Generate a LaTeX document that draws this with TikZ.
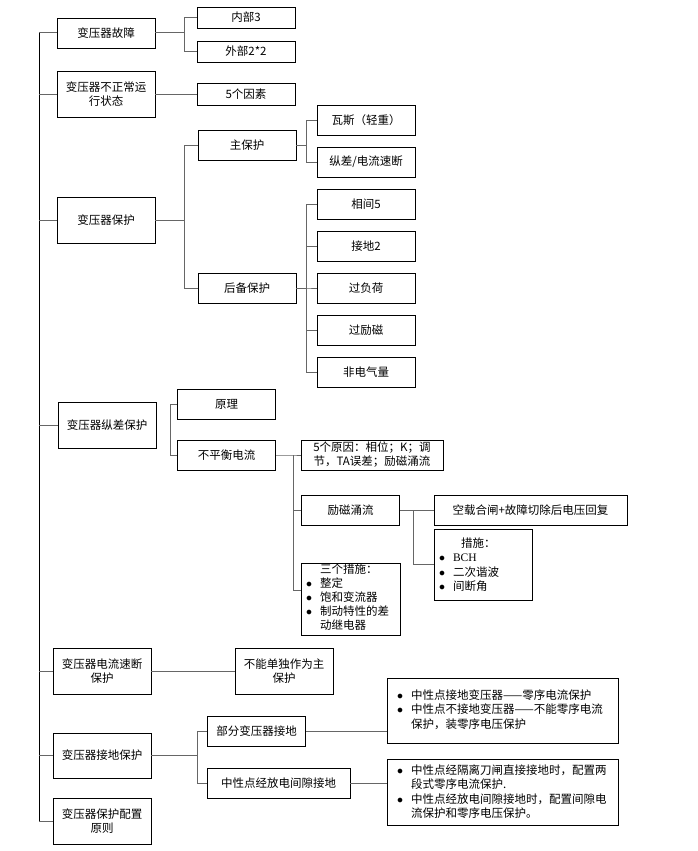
\documentclass[tikz,border=0pt]{standalone}
\usepackage{fontspec}
\setmainfont{Noto Sans CJK SC}
\begin{document}
\begin{tikzpicture}[x=1pt,y=-1pt]
	\tikzset{box/.style={draw, line width=.8pt, minimum width=98pt, minimum height=30pt, inner sep=1pt, align=center, font=\fontsize{11.5}{14}\selectfont}}
	\tikzset{listbox/.style={draw, line width=.8pt, inner sep=0pt, font=\fontsize{11.5}{14.5}\selectfont}}
	\tikzset{conn/.style={draw=black!60, line width=1pt}}
	\tikzset{spine/.style={draw=black, line width=.8pt}}
	\useasboundingbox (0,0) rectangle (698,851);

	% level 1
	\node[box] (fault) at (106,33) {变压器故障};
	\node[box, minimum height=46pt] (abn) at (106,94) {变压器不正常运\\行状态};
	\node[box, minimum height=46pt] (prot) at (106,220) {变压器保护};
	\node[box, minimum height=46pt] (dprot) at (107,425) {变压器纵差保护};
	\node[box, minimum height=46pt] (quick) at (102,671) {变压器电流速断\\保护};
	\node[box, minimum height=45pt] (gnd) at (102,755.5) {变压器接地保护};
	\node[box, minimum height=46pt] (cfg) at (102,821) {变压器保护配置\\原则};

	% faults
	\node[box, minimum height=21pt] (in3) at (246,17.5) {内部3};
	\node[box, minimum height=21pt] (out22) at (246,51.5) {外部2*2};
	\node[box, minimum height=22pt] (fac5) at (246,94) {5个因素};

	% protections
	\node[box] (mainp) at (247,145) {主保护};
	\node[box] (backup) at (247,288) {后备保护};
	\node[box] (gas) at (366,120) {瓦斯（轻重）};
	\node[box] (diff) at (366,162) {纵差/电流速断};
	\node[box] (ph5) at (366,204) {相间5};
	\node[box] (jd2) at (366,246.5) {接地2};
	\node[box] (ol) at (366,288) {过负荷};
	\node[box] (oe) at (366,330) {过励磁};
	\node[box] (ne) at (366,372) {非电气量};

	% differential
	\node[box] (princ) at (226.5,404) {原理};
	\node[box] (unbal) at (226.5,455) {不平衡电流};
	\node[box, minimum width=142pt] (reasons) at (372,455) {5个原因：相位；K；调\\节，TA误差；励磁涌流};
	\node[box] (inrush) at (350.5,510) {励磁涌流};
	\node[box, minimum width=193pt] (noload) at (530.5,510) {空载合闸+故障切除后电压回复};
	\node[listbox] (meas) at (483,564.5) {\parbox[c][71pt][t]{98pt}{\vspace*{8pt}\hspace*{5pt}%
		\begin{tabular}{@{}l@{\hspace{8pt}}l@{}}
			& \hspace{8pt}措施：\\
			$\bullet$ & {\fontspec{Liberation Serif}BCH}\\
			$\bullet$ & 二次谐波\\
			$\bullet$ & 间断角
		\end{tabular}}};
	\node[listbox, font=\fontsize{11.5}{14}\selectfont] (three) at (350.5,599) {\parbox[c][72pt][t]{99pt}{\vspace*{1pt}\hspace*{5pt}%
		\begin{tabular}{@{}l@{\hspace{8pt}}l@{}}
			& 三个措施：\\
			$\bullet$ & 整定\\
			$\bullet$ & 饱和变流器\\
			$\bullet$ & 制动特性的差\\
			& 动继电器
		\end{tabular}}};

	% quick break / earthing
	\node[box, minimum height=46pt] (notmain) at (284,671) {不能单独作为主\\保护};
	\node[box] (part) at (256.5,731) {部分变压器接地};
	\node[box, minimum width=143pt] (gap) at (278.5,783) {中性点经放电间隙接地};
	\node[listbox] (r1) at (502.5,710.5) {\parbox[c][65pt][t]{231pt}{\vspace*{11pt}\hspace*{10pt}%
		\begin{tabular}{@{}l@{\hspace{8pt}}l@{}}
			$\bullet$ & 中性点接地变压器——零序电流保护\\
			$\bullet$ & 中性点不接地变压器——不能零序电流\\
			& 保护，装零序电压保护
		\end{tabular}}};
	\node[listbox] (r2) at (502.5,792) {\parbox[c][66pt][t]{231pt}{\vspace*{5pt}\hspace*{10pt}%
		\begin{tabular}{@{}l@{\hspace{8pt}}l@{}}
			$\bullet$ & 中性点经隔离刀闸直接接地时，配置两\\
			& 段式零序电流保护.\\
			$\bullet$ & 中性点经放电间隙接地时，配置间隙电\\
			& 流保护和零序电压保护。
		\end{tabular}}};

	% spine
	\coordinate (sp) at (39,0);
	\draw[spine] (sp |- fault.west) -- (sp |- cfg.west);
	\foreach \n in {fault,abn,prot,dprot,quick,gnd,cfg}
		\draw[conn] (sp |- \n.west) -- (\n.west);

	% branches
	\coordinate (t1) at (184,0);
	\coordinate (t2) at (306,0);
	\coordinate (t3) at (170,0);
	\coordinate (t4) at (293,0);
	\coordinate (t5) at (413,0);
	\coordinate (t6) at (197,0);
	\draw[conn] (fault.east) -- (t1 |- fault.east) |- (in3.west);
	\draw[conn] (t1 |- fault.east) |- (out22.west);
	\draw[conn] (abn.east) -- (fac5.west);
	\draw[conn] (prot.east) -- (t1 |- prot.east) |- (mainp.west);
	\draw[conn] (t1 |- prot.east) |- (backup.west);
	\draw[conn] (mainp.east) -- (t2 |- mainp.east) |- (gas.west);
	\draw[conn] (t2 |- mainp.east) |- (diff.west);
	\foreach \n in {ph5,jd2,ol,oe,ne}
		\draw[conn] (backup.east) -- (t2 |- backup.east) |- (\n.west);
	\draw[conn] (princ.west) -- (t3 |- princ.west) -- (t3 |- unbal.west) -- (unbal.west);
	\draw[conn] (unbal.east) -- (t4 |- unbal.east) |- (reasons.west);
	\draw[conn] (t4 |- unbal.east) |- (inrush.west);
	\draw[conn] (t4 |- unbal.east) |- ([yshift=9pt]three.west);
	\draw[conn] (inrush.east) -- (noload.west);
	\draw[conn] (t5 |- inrush.east) |- (meas.west);
	\draw[conn] (quick.east) -- (notmain.west);
	\draw[conn] (gnd.east) -- (t6 |- gnd.east) |- (part.west);
	\draw[conn] (t6 |- gnd.east) |- (gap.west);
	\draw[conn] (part.east) -- (part.east -| r1.west);
	\draw[conn] (gap.east) -- (gap.east -| r2.west);
\end{tikzpicture}
\end{document}
